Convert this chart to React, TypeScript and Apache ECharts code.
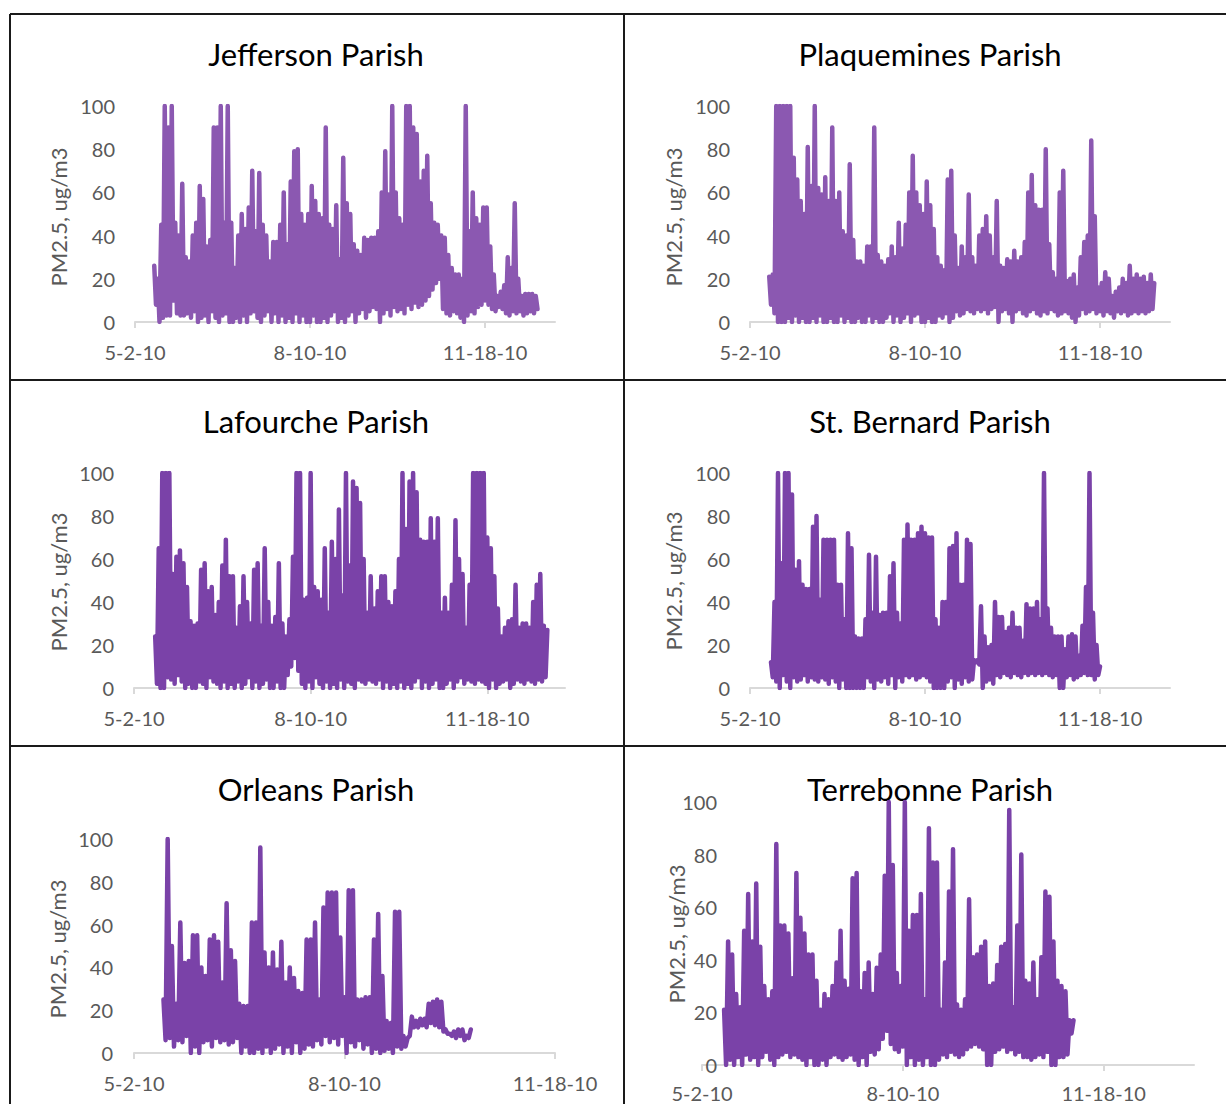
import React, { useEffect, useRef } from "react";
import * as echarts from "echarts";

// ---------- DATA ----------
const TITLES = [
  "Jefferson Parish",
  "Plaquemines Parish",
  "Lafourche Parish",
  "St. Bernard Parish",
  "Orleans Parish",
  "Terrebonne Parish",
];
const DATE_TICKS = ["5-2-10", "8-10-10", "11-18-10"]; // days 0, 100, 200 after 5-2-10
const Y_NAME = "PM2.5, ug/m3";

// first day (days after 5-2-10) of each series; peaks on start+2i, troughs on start+2i+1
const START_DAYS = [11, 11, 12, 12, 14, 11];

const jeffersonPeaks = [26,20,45,100,90,100,46,40,64,30, 28,40,46,63,57,35,38,90,90,100, 46,100,46,25,40,50,43,53,70,42, 69,45,40,28,37,37,45,60,36,65, 79,80,50,45,50,63,56,50,48,90, 45,43,54,29,76,55,50,36,33,31, 39,38,39,39,42,60,79,59,100,60, 48,45,100,100,90,87,65,70,77,55, 46,45,40,39,31,25,22,22,20,100, 42,60,48,45,53,53,35,22,12,14, 17,30,25,55,20,12,13,13,13,12];
const jeffersonTroughs = [8,0,2,3,3,10,4,3,3,4, 2,5,0,2,3,0,5,2,0,3, 4,0,0,2,0,3,0,4,5,2, 0,3,5,0,4,0,3,0,2,0, 4,0,3,0,0,3,0,0,2,0, 3,5,0,2,0,3,5,0,4,6, 2,5,7,6,0,4,6,3,7,5, 6,4,8,6,9,7,8,10,12,15, 18,20,6,4,3,5,4,2,0,3, 5,4,7,8,10,8,6,5,7,6, 4,3,5,4,5,3,4,5,4,6];

const plaqueminesPeaks = [21,22,100,100,100,100,100,76,66,56, 50,81,63,100,62,59,67,56,90,56, 60,42,40,73,38,28,28,26,35,35, 90,31,28,26,29,35,30,46,34,45, 60,77,60,54,50,65,54,43,30,26, 24,66,70,40,25,35,30,59,30,26, 40,43,49,40,30,56,26,25,29,28, 33,28,30,37,60,68,54,52,52,80, 36,23,20,60,70,19,20,22,16,30, 37,40,84,49,16,18,23,20,12,14, 16,20,18,26,20,22,20,21,18,22, 18];
const plaqueminesTroughs = [8,4,0,0,0,2,0,3,0,2, 0,0,2,0,3,0,0,2,0,0, 3,0,2,0,0,2,0,0,3,0, 2,0,0,2,4,0,3,0,2,4, 0,3,4,0,0,2,0,0,3,2, 4,0,2,5,3,4,6,5,4,6, 5,6,4,6,7,0,5,6,4,0, 5,6,4,3,5,6,4,3,5,4, 6,5,3,4,5,4,2,0,3,6, 4,5,6,4,5,3,5,4,2,5, 4,5,3,4,5,4,5,4,5,6];

const lafourchePeaks = [24,65,100,100,100,53,61,64,58,47, 31,29,30,55,58,45,47,34,40,57, 69,52,52,28,38,52,40,30,55,58, 29,65,40,29,33,58,30,24,32,61, 100,100,41,42,100,47,45,41,65,35, 68,60,83,43,100,57,96,93,86,60, 35,52,37,45,52,52,40,38,45,60, 100,74,96,100,91,69,68,68,79,68, 79,35,42,35,48,78,60,53,28,48, 100,100,100,100,70,65,52,37,24,28, 31,32,48,28,30,30,28,40,48,53, 29,27];
const lafourcheTroughs = [2,0,0,5,4,2,6,3,0,2, 0,0,3,2,0,5,3,2,0,3, 0,2,0,3,0,2,5,0,3,0, 2,4,0,0,3,0,0,6,10,14, 8,2,0,3,0,5,2,0,3,0, 2,0,4,0,3,2,0,4,3,2, 4,3,2,4,0,3,0,2,0,3, 0,2,0,3,5,0,3,0,2,4, 0,0,2,4,0,3,5,2,4,3, 2,4,3,2,0,4,0,2,3,4, 0,2,4,3,2,4,3,2,4,3, 5];

const stBernardPeaks = [12,40,100,58,100,100,90,55,59,48, 46,46,75,80,41,69,69,69,69,48, 48,32,72,65,24,23,23,32,62,35, 61,34,35,35,52,58,35,30,69,76, 69,69,72,75,72,70,70,32,28,40, 40,65,66,72,48,48,69,67,13,13, 38,24,19,20,40,33,33,26,28,35, 28,28,22,39,37,37,40,32,100,37, 28,24,24,24,18,24,25,24,15,29, 47,100,35,20,10];
const stBernardTroughs = [5,3,0,6,3,0,5,3,4,6, 3,5,4,3,5,4,2,5,3,0, 4,0,0,0,0,0,0,5,3,0, 4,3,5,2,6,0,5,3,6,5, 6,4,5,6,5,3,0,0,0,0, 3,5,0,4,2,5,3,4,12,11, 0,3,4,2,6,5,7,6,5,7, 6,5,7,6,7,6,7,6,7,6, 5,6,0,0,5,6,4,5,6,7, 6,6,4,6];

const orleansPeaks = [25,100,50,23,61,42,43,55,55,40, 36,53,55,52,33,70,48,43,23,22, 22,61,61,96,47,40,47,39,52,33, 40,35,29,28,53,53,61,25,68,75, 75,75,54,26,76,76,25,25,26,26, 53,65,36,15,14,66,66,8,7,17, 15,16,16,23,24,25,24,11,9,10, 11,11,8,11];
const orleansTroughs = [6,7,3,6,5,8,0,3,0,5, 6,3,7,5,6,4,5,7,0,3, 0,0,2,0,3,0,2,4,0,3, 0,5,0,2,4,3,6,4,8,5, 7,4,8,0,5,3,6,2,4,0, 2,0,1,2,0,3,2,3,8,12, 12,13,12,14,13,12,10,9,8,7, 8,6,7];

const terrebonnePeaks = [21,47,42,27,22,51,65,47,69,45, 30,25,28,84,53,53,50,33,73,56, 50,42,42,32,21,27,25,30,39,51, 32,29,71,73,28,35,39,27,37,42, 72,100,76,35,30,100,51,57,57,65, 25,90,77,77,21,39,66,82,23,21, 25,63,41,42,45,47,30,31,38,45, 46,97,22,53,80,32,31,39,25,41, 66,64,47,32,30,28,17,17];
const terrebonneTroughs = [0,2,0,3,0,4,2,3,0,3, 5,2,0,3,4,5,3,4,3,2, 0,3,0,0,2,0,3,4,3,2, 3,4,2,0,3,0,5,4,6,10, 13,8,6,5,7,0,3,0,2,0, 3,0,0,2,4,3,5,4,3,4, 6,7,8,7,6,0,0,5,6,7, 5,6,4,5,3,3,2,3,4,3, 5,0,0,3,3,4,12];

const PEAKS = [jeffersonPeaks, plaqueminesPeaks, lafourchePeaks, stBernardPeaks, orleansPeaks, terrebonnePeaks];
const TROUGHS = [jeffersonTroughs, plaqueminesTroughs, lafourcheTroughs, stBernardTroughs, orleansTroughs, terrebonneTroughs];
const X_MAX_DAYS = [240, 240, 244, 240, 200, 245];

// ---------- LAYOUT ----------
const LAYOUT = [
  { grid: { left: 135, top: 106, width: 420, height: 216 }, tx: 316, ty: 54, nx: 58, ny: 217, ym: 20, xm: 20, color: "#8B58B1" },
  { grid: { left: 750, top: 106, width: 420, height: 216 }, tx: 930, ty: 54, nx: 673, ny: 217, ym: 20, xm: 20, color: "#8B58B1" },
  { grid: { left: 134, top: 473, width: 431, height: 215 }, tx: 316, ty: 421, nx: 58, ny: 582, ym: 20, xm: 20, color: "#7A42A8" },
  { grid: { left: 750, top: 473, width: 420, height: 215 }, tx: 930, ty: 421, nx: 673, ny: 581, ym: 20, xm: 20, color: "#7A42A8" },
  { grid: { left: 134, top: 839, width: 421, height: 214 }, tx: 316, ty: 789, nx: 57, ny: 949, ym: 21, xm: 20, color: "#7A42A8" },
  { grid: { left: 702, top: 802, width: 492, height: 263 }, tx: 930, ty: 789, nx: 676, ny: 934, ym: -15, xm: 18, color: "#7A42A8" },
];

const FONT = "Lato, 'Open Sans', sans-serif";
const GRAY = "#595959";

function buildSeries(start: number, peaks: number[], troughs: number[]) {
  const out: number[][] = [];
  for (let i = 0; i < peaks.length; i++) {
    out.push([start + 2 * i, peaks[i]]);
    if (i < troughs.length) out.push([start + 2 * i + 1, troughs[i]]);
  }
  return out;
}

function buildOption() {
  const grids: any[] = [];
  const xAxes: any[] = [];
  const yAxes: any[] = [];
  const series: any[] = [];
  const graphics: any[] = [];

  LAYOUT.forEach((L, i) => {
    grids.push({ ...L.grid, containLabel: false });
    xAxes.push({
      type: "value",
      gridIndex: i,
      min: 0,
      max: X_MAX_DAYS[i],
      interval: 100,
      axisLine: { show: true, lineStyle: { color: "#D9D9D9", width: 2 } },
      axisTick: { show: true, length: 6, lineStyle: { color: "#D9D9D9", width: 2 }, customValues: [0, 100, 200] },
      splitLine: { show: false },
      axisLabel: {
        customValues: [0, 100, 200],
        margin: L.xm,
        color: GRAY,
        fontSize: 20,
        fontFamily: FONT,
        formatter: (v: number) => (v % 100 === 0 ? DATE_TICKS[Math.round(v / 100)] ?? "" : ""),
      },
    });
    yAxes.push({
      type: "value",
      gridIndex: i,
      min: 0,
      max: 100,
      interval: 20,
      axisLine: { show: false },
      axisTick: { show: false },
      splitLine: { show: false },
      axisLabel: { margin: L.ym, color: GRAY, fontSize: 20, fontFamily: FONT },
    });
    series.push({
      type: "line",
      xAxisIndex: i,
      yAxisIndex: i,
      data: buildSeries(START_DAYS[i], PEAKS[i], TROUGHS[i]),
      symbol: "none",
      showSymbol: false,
      silent: true,
      clip: true,
      lineStyle: { width: 4.5, color: L.color, join: "round", cap: "round" },
    });
    graphics.push({
      type: "text",
      x: L.tx,
      y: L.ty,
      style: { text: TITLES[i], fill: "#000", fontSize: 31, fontFamily: FONT, align: "center", verticalAlign: "middle" },
    });
    graphics.push({
      type: "text",
      x: L.nx,
      y: L.ny,
      rotation: Math.PI / 2,
      style: { text: Y_NAME, fill: GRAY, fontSize: 22, fontFamily: FONT, align: "center", verticalAlign: "middle" },
    });
  });

  const border = { stroke: "#1a1a1a", lineWidth: 2 };
  graphics.push(
    { type: "line", shape: { x1: 10, y1: 14, x2: 1226, y2: 14 }, style: border },
    { type: "line", shape: { x1: 10, y1: 14, x2: 10, y2: 1104 }, style: border },
    { type: "line", shape: { x1: 624, y1: 14, x2: 624, y2: 1104 }, style: border },
    { type: "line", shape: { x1: 10, y1: 380, x2: 1226, y2: 380 }, style: border },
    { type: "line", shape: { x1: 10, y1: 746, x2: 1226, y2: 746 }, style: border }
  );

  return {
    animation: false,
    backgroundColor: "#ffffff",
    grid: grids,
    xAxis: xAxes,
    yAxis: yAxes,
    series,
    graphic: graphics,
  };
}

export default function App() {
  const ref = useRef<HTMLDivElement>(null);
  useEffect(() => {
    if (!ref.current) return;
    const chart = echarts.init(ref.current, null, { renderer: "svg" });
    chart.setOption(buildOption() as any);
    return () => chart.dispose();
  }, []);
  return (
    <div
      ref={ref}
      style={{ position: "absolute", left: 0, top: 0, width: 1226, height: 1104, background: "#fff" }}
    />
  );
}
